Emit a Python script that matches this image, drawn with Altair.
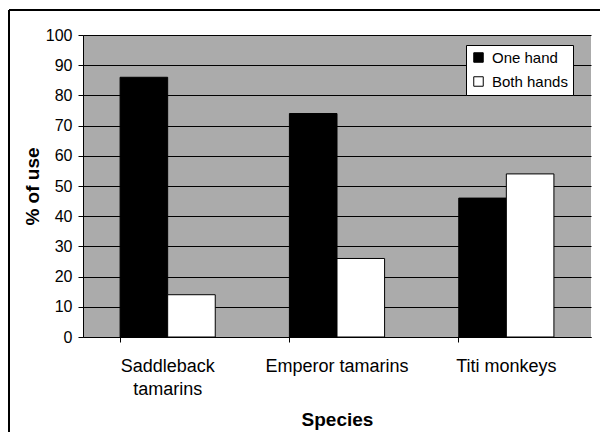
import altair as alt
import pandas as pd

species = ["Saddleback tamarins", "Emperor tamarins", "Titi monkeys"]
one_hand = [86, 74, 46]
both_hands = [14, 26, 54]
series = ["One hand", "Both hands"]

rows = []
for i, s in enumerate(species):
    rows.append({"species": s, "hand": series[0], "pct": one_hand[i]})
    rows.append({"species": s, "hand": series[1], "pct": both_hands[i]})
df = pd.DataFrame(rows)

FONT = "Liberation Sans"

bars = alt.Chart(df).mark_bar(stroke="black", strokeWidth=1).encode(
    x=alt.X(
        "species:N",
        sort=species,
        scale=alt.Scale(paddingInner=0.438, paddingOuter=0.219),
        axis=alt.Axis(
            title="Species",
            labelAngle=0,
            labelFontSize=18,
            labelColor="black",
            labelPadding=15,
            labelLineHeight=23,
            labelExpr="datum.label == 'Saddleback tamarins' ? ['Saddleback', 'tamarins'] : datum.label",
            bandPosition=0,
            tickSize=5,
            tickColor="black",
            domainColor="black",
            titleFontSize=19,
            titleFontWeight="bold",
            titleColor="black",
            titlePadding=12,
            grid=False,
        ),
    ),
    xOffset=alt.XOffset("hand:N", sort=series),
    y=alt.Y(
        "pct:Q",
        scale=alt.Scale(domain=[0, 100]),
        axis=alt.Axis(
            title="% of use",
            values=list(range(0, 101, 10)),
            labelFontSize=16,
            labelColor="black",
            labelPadding=6,
            tickSize=5,
            tickColor="black",
            domainColor="black",
            gridColor="black",
            gridOpacity=1,
            gridWidth=1,
            titleFontSize=19,
            titleFontWeight="bold",
            titleColor="black",
            titlePadding=3,
        ),
    ),
    color=alt.Color(
        "hand:N",
        sort=series,
        scale=alt.Scale(domain=series, range=["#000000", "#ffffff"]),
        legend=alt.Legend(
            title=None,
            orient="none",
            legendX=383,
            legendY=10,
            symbolType="square",
            symbolSize=90,
            symbolStrokeColor="black",
            symbolStrokeWidth=1,
            labelFontSize=15,
            labelColor="black",
            labelOffset=6,
            rowPadding=8,
            padding=5,
            fillColor="white",
            strokeColor="black",
        ),
    ),
)

frame_left = alt.Chart(alt.Data(values=[{}])).mark_rule(color="black", strokeWidth=2).encode(
    x=alt.value(-74), y=alt.value(-25), y2=alt.value(400)
)
frame_top = alt.Chart(alt.Data(values=[{}])).mark_rule(color="black", strokeWidth=2).encode(
    x=alt.value(-74), x2=alt.value(520), y=alt.value(-25)
)

chart = alt.layer(bars, frame_left, frame_top).properties(
    width=508,
    height=302,
    autosize=alt.AutoSizeParams(type="none"),
    padding={"left": 75, "top": 27, "right": 9, "bottom": 95},
    background="white",
).configure(font=FONT).configure_view(fill="#ababab", stroke=None)

chart.save("out.html", embed_options={"renderer": "svg", "actions": False})
